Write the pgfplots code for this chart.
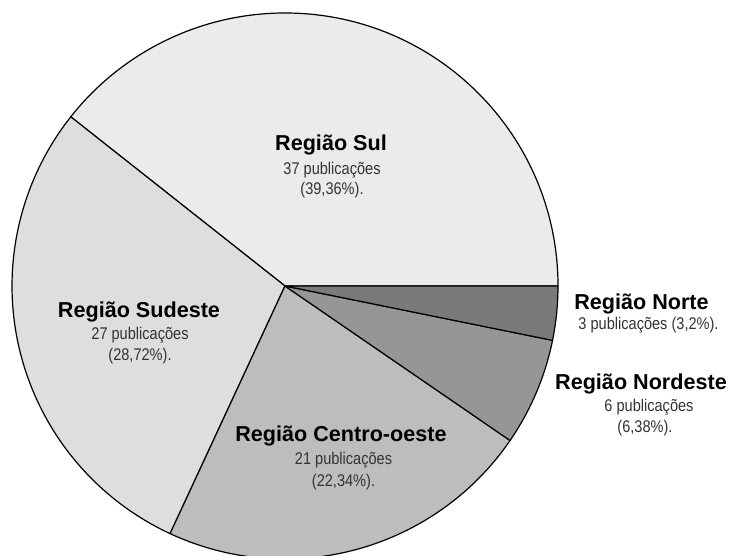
\documentclass[border=0pt]{standalone}
\usepackage{pgfplots}
\usepackage{pgfplotstable}
\pgfplotsset{compat=1.18}
\usepackage{fontspec}
\setmainfont{Liberation Sans}
\newfontfamily\narrowfont[FakeStretch=0.86]{Liberation Sans}

% publications per region, counter-clockwise from 0 degrees
\pgfplotstableread{
region count shade
Sul 37 8
Sudeste 27 13
Centro 21 26
Nordeste 6 41
Norte 3 52
}\pietable

\tikzset{
  ttl/.style={anchor=base, inner sep=0pt, font=\fontsize{16.2}{18}\selectfont\bfseries},
  sub/.style={anchor=base, inner sep=0pt, text=black!80, font=\narrowfont\fontsize{12.7}{14}\selectfont},
}

\begin{document}
\begin{tikzpicture}
\begin{axis}[
  hide axis, scale only axis,
  width=549pt, height=417pt,
  xmin=0, xmax=732, ymin=0, ymax=556,
  clip=true,
]
\xdef\acc{0}
\pgfplotsforeachungrouped \i in {0,...,4}{
  \pgfplotstablegetelem{\i}{count}\of\pietable \let\cnt\pgfplotsretval
  \pgfplotstablegetelem{\i}{shade}\of\pietable \let\shd\pgfplotsretval
  \pgfmathsetmacro\a{\acc}
  \pgfmathsetmacro\b{\acc+\cnt/94*360}
  \edef\temp{\noexpand\filldraw[fill=black!\shd, draw=black, line width=0.9pt, line join=round]
    (axis cs:285,270) -- ++(\a:204.75pt) arc[start angle=\a, end angle=\b, radius=204.75pt] -- cycle;}
  \temp
  \xdef\acc{\b}
}

% Região Sul
\node[ttl] at (axis cs:331,405)   {Região Sul};
\node[sub] at (axis cs:332,381.5) {37 publicações};
\node[sub] at (axis cs:332,361)   {(39,36\%).};
% Região Sudeste
\node[ttl] at (axis cs:139,238)   {Região Sudeste};
\node[sub] at (axis cs:140,216)   {27 publicações};
\node[sub] at (axis cs:140,195)   {(28,72\%).};
% Região Centro-oeste
\node[ttl] at (axis cs:341,114.3) {Região Centro-oeste};
\node[sub] at (axis cs:343.5,91)  {21 publicações};
\node[sub] at (axis cs:343.5,69.3){(22,34\%).};
% Região Norte
\node[ttl] at (axis cs:641.5,246) {Região Norte};
\node[sub] at (axis cs:648.5,226) {3 publicações (3,2\%).};
% Região Nordeste
\node[ttl] at (axis cs:641,166.7) {Região Nordeste};
\node[sub] at (axis cs:649,144.3) {6 publicações};
\node[sub] at (axis cs:645,123.3) {(6,38\%).};
\end{axis}
\pgfresetboundingbox
\path[use as bounding box] (current axis.south west) rectangle (current axis.north east);
\end{tikzpicture}
\end{document}
